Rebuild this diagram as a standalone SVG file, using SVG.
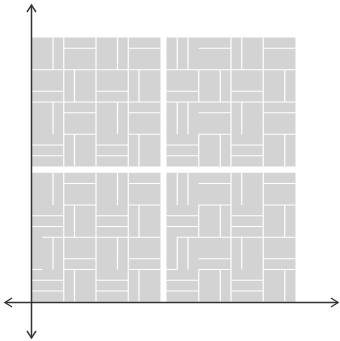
<svg xmlns="http://www.w3.org/2000/svg" width="340" height="341" viewBox="0 0 340 341">
<style>
.tile{fill:#d3d3d3}
.seam{fill:none;stroke:#ffffff;stroke-width:0.11;stroke-linecap:butt}
.axis{fill:none;stroke:#333333;stroke-width:1.5}
.head{fill:none;stroke:#333333;stroke-width:1.4;stroke-linejoin:miter}
</style>
<rect width="340" height="341" fill="#ffffff"/>
<g id="q1" transform="translate(31.5,37.5) scale(10.75)">
<rect class="tile" width="12" height="12"/>
<path class="seam" d="M3 0V12M6 0V12M9 0V12M0 3H12M0 6H12M3 9H6M9 9H12M2 0V3M3 1H6M8 0V3M9 1H12M0 5H3M4 3V6M6 5H9M10 3V6M2 6V9M3 7H6M8 6V9M9 7H12M0 10H3M0 11H3M4 9V12M6 10H9M6 11H9M10 9V12"/>
</g>
<g id="q2" transform="translate(166.5,37.5) scale(10.75)">
<rect class="tile" width="12" height="12"/>
<path class="seam" d="M3 3V6M3 9V12M6 0V12M9 0V12M0 3H12M0 6H12M3 9H6M9 9H12M1 0V3M2 0V3M3 1H6M7 0V3M9 1H12M0 5H3M5 3V6M6 5H9M11 3V6M1 6V9M2 6V9M3 7H6M7 6V9M9 7H12M0 10H3M0 11H3M5 9V12M6 10H9M6 11H9M11 9V12"/>
</g>
<g id="q3" transform="translate(31.5,172.75) scale(10.75)">
<rect class="tile" width="12" height="12"/>
<path class="seam" d="M3 0V12M6 0V12M9 0V12M3 3H6M9 3H12M1 6H12M0 9H1M3 9H6M9 9H12M2 0V3M3 1H6M8 0V3M9 1H12M0 4H3M0 5H3M4 3V6M6 4H9M6 5H9M10 3V6M2 6V9M3 8H6M8 6V9M9 8H12M0 10H3M0 11H3M4 9V12M6 10H9M6 11H9M10 9V12"/>
</g>
<g id="q4" transform="translate(166.5,172.75) scale(10.75)">
<rect class="tile" width="12" height="12"/>
<path class="seam" d="M3 3V6M3 9V12M6 0V12M9 0V12M3 3H6M9 3H12M1 6H12M0 9H1M3 9H6M9 9H12M1 0V3M2 0V3M3 1H6M7 0V3M9 1H12M0 4H3M0 5H3M5 3V6M6 4H9M6 5H9M11 3V6M1 6V9M2 6V9M3 8H6M7 6V9M9 8H12M0 10H3M0 11H3M5 9V12M6 10H9M6 11H9M11 9V12"/>
</g>
<g id="axes">
<line class="axis" x1="31.5" y1="5" x2="31.5" y2="338"/>
<line class="axis" x1="5" y1="302.5" x2="338" y2="302.5"/>
<polyline class="head" points="27,12 31.5,5 36,12"/>
<polyline class="head" points="27,331 31.5,338 36,331"/>
<polyline class="head" points="12,298 5,302.5 12,307"/>
<polyline class="head" points="331,298 338,302.5 331,307"/>
</g>
</svg>
